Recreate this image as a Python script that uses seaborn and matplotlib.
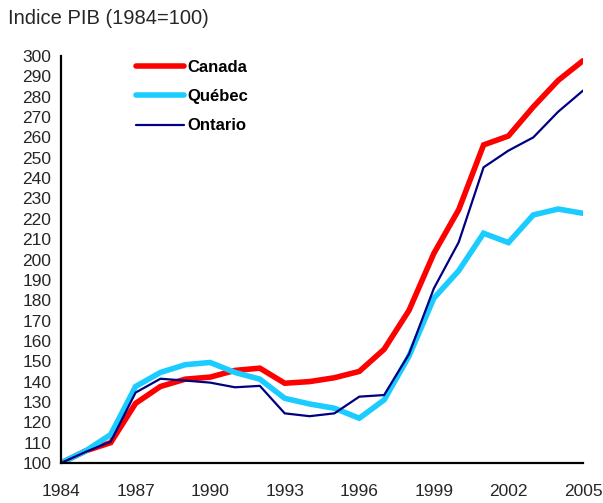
import matplotlib
matplotlib.use("Agg")
import matplotlib.pyplot as plt
import seaborn as sns
import pandas as pd

sns.set_style("white")
plt.rcParams['font.family'] = ['Liberation Sans', 'DejaVu Sans']

years = list(range(1984, 2006))
canada = [100, 106, 110, 129.3, 137.6, 141.2, 142.2, 145.5, 146.6, 139.2, 140, 141.9,
          145, 155.9, 175, 203, 224.5, 256.3, 260.7, 275, 288, 297.7]
quebec = [100, 106, 114, 137.6, 144.5, 148.3, 149.4, 144.5, 141.2, 131.8, 129, 126.9,
          122, 131, 152.5, 181, 194.5, 212.9, 208.3, 221.9, 224.8, 222.7]
ontario = [100, 105.5, 110.5, 134.6, 141.4, 140.5, 139.5, 137.2, 137.9, 124.4, 123, 124.4,
           132.6, 133.4, 153.5, 185.8, 208.5, 245.3, 253.5, 260, 272.6, 283]

series_names = ["Canada", "Québec", "Ontario"]
colors = {"Canada": "#FF0000", "Québec": "#1ACCFF", "Ontario": "#000080"}
widths = {"Canada": 4.0, "Québec": 4.0, "Ontario": 1.6}

df = pd.DataFrame({"Année": years, "Canada": canada, "Québec": quebec, "Ontario": ontario})
long = df.melt(id_vars="Année", var_name="Série", value_name="Indice")

fig = plt.figure(figsize=(6.03, 5.03), dpi=100)
ax = fig.add_axes([61/603, 40/503, 522/603, 407/503])

for name in series_names:
    sub = long[long["Série"] == name]
    sns.lineplot(data=sub, x="Année", y="Indice", ax=ax, color=colors[name],
                 linewidth=widths[name], label=name, solid_joinstyle="miter")

ax.set_xlim(1984, 2005)
ax.set_ylim(100, 300)
ax.set_xlabel("")
ax.set_ylabel("")

ax.set_xticks(years)
ax.set_xticklabels([str(y) if (y - 1984) % 3 == 0 else "" for y in years])
ax.set_yticks(range(100, 301, 10))
ax.set_yticklabels([str(v) for v in range(100, 301, 10)])

for side in ["top", "right"]:
    ax.spines[side].set_visible(False)
for side in ["left", "bottom"]:
    ax.spines[side].set_linewidth(1.6)
    ax.spines[side].set_color("black")

ax.tick_params(axis="both", direction="inout", length=8, width=1.6, color="black",
               labelsize=12.5, pad=3)
ax.tick_params(axis="x", pad=11)
for sp in ax.spines.values():
    sp.set_clip_on(False)

leg = ax.legend(loc="upper left", bbox_to_anchor=(0.115, 1.027), frameon=False,
                handlelength=2.9, handletextpad=0.2, labelspacing=0.85,
                prop={"weight": "bold", "size": 12})
for t in leg.get_texts():
    t.set_color("black")

fig.text(8/603, 1 - 18/503, "Indice PIB (1984=100)", fontsize=14.5, va="center", ha="left")

fig.savefig("out.png", dpi=100)
